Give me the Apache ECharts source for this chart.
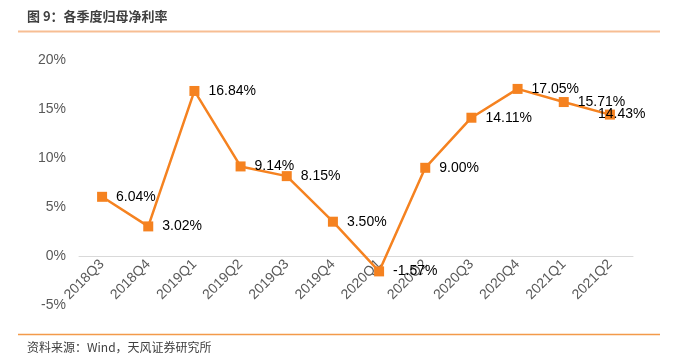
<!DOCTYPE html>
<html><head><meta charset="utf-8">
<script src="https://cdn.jsdelivr.net/npm/echarts@6/dist/echarts.min.js"></script>
<style>html,body{margin:0;padding:0;background:#fff;}#c{width:685px;height:359px;}</style>
</head><body><div id="c"></div>
<script>
const categories = ['2018Q3','2018Q4','2019Q1','2019Q2','2019Q3','2019Q4','2020Q1','2020Q2','2020Q3','2020Q4','2021Q1','2021Q2'];
const netMargin = [6.04, 3.02, 16.84, 9.14, 8.15, 3.50, -1.57, 9.00, 14.11, 17.05, 15.71, 14.43];
const yTicks = [-5, 0, 5, 10, 15, 20];
const titleText = '图 9：各季度归母净利率';
const sourceText = '资料来源：Wind，天风证券研究所';

const chart = echarts.init(document.getElementById('c'), null, {renderer:'canvas'});
const seriesData = netMargin.map((v, i) => {
  const d = {value: v};
  if (i === netMargin.length - 1) d.label = {offset: [-26, 0]};
  return d;
});
const gridTop = 60, gridBottom = 54, plotH = 359 - gridTop - gridBottom;
const zeroOffset = -plotH * (0 - yTicks[0]) / (yTicks[yTicks.length-1] - yTicks[0]);
chart.setOption({
  animation: false,
  backgroundColor: '#fff',
  graphic: [
    {type:'text', left: 27, top: 10, style:{text: titleText, font:'bold 13px "Noto Sans CJK SC", sans-serif', fill:'#404040'}},
    {type:'line', shape:{x1:18, y1:31.5, x2:660, y2:31.5}, style:{stroke:'#f7be93', lineWidth:2}},
    {type:'line', shape:{x1:18, y1:334.5, x2:660, y2:334.5}, style:{stroke:'#f39a4a', lineWidth:1.5}},
    {type:'text', left: 27, top: 341, style:{text: sourceText, font:'12px "Noto Sans CJK SC", sans-serif', fill:'#404040'}}
  ],
  grid: {left: 79, right: 52, top: gridTop, bottom: gridBottom},
  xAxis: {
    type: 'category', data: categories, boundaryGap: true,
    position: 'bottom', offset: zeroOffset,
    axisLine: {onZero: false, lineStyle: {color: '#d9d9d9', width: 1}},
    axisTick: {show: false},
    axisLabel: {rotate: 45, color: '#595959', fontSize: 14, fontFamily: 'Liberation Sans, Arial', margin: 6, interval: 0}
  },
  yAxis: {
    type: 'value', min: yTicks[0], max: yTicks[yTicks.length-1], interval: 5,
    axisLine: {show: false}, axisTick: {show: false}, splitLine: {show: false},
    axisLabel: {formatter: '{value}%', color: '#595959', fontSize: 14, fontFamily: 'Liberation Sans, Arial', margin: 13}
  },
  series: [{
    type: 'line', data: seriesData,
    symbol: 'rect', symbolSize: 10,
    itemStyle: {color: '#f58220'},
    lineStyle: {color: '#f58220', width: 2.5},
    label: {show: true, position: 'right', distance: 9, formatter: p => p.value.toFixed(2) + '%',
      color: '#000', fontSize: 14, fontFamily: 'Liberation Sans, Arial'}
  }]
});
</script></body></html>
